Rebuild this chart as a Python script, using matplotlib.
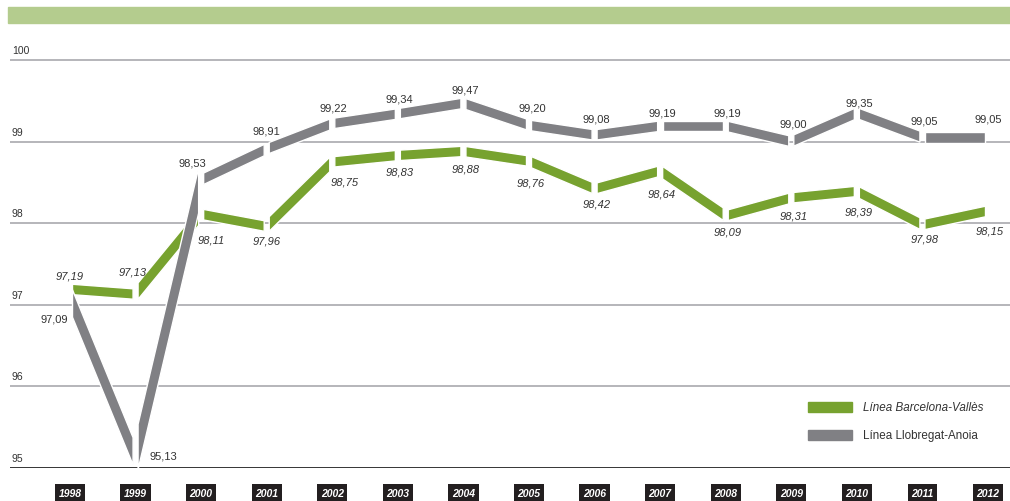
import numpy as np
import matplotlib.pyplot as plt
from matplotlib.patches import Polygon, Rectangle

plt.rcParams["font.family"] = ["Liberation Sans", "DejaVu Sans"]

years = list(range(1998, 2013))
barcelona_valles = [97.19, 97.13, 98.11, 97.96, 98.75, 98.83, 98.88, 98.76,
                    98.42, 98.64, 98.09, 98.31, 98.39, 97.98, 98.15]
llobregat_anoia = [97.09, 95.13, 98.53, 98.91, 99.22, 99.34, 99.47, 99.20,
                   99.08, 99.19, 99.19, 99.00, 99.35, 99.05, 99.05]
yticks = [95, 96, 97, 98, 99, 100]

GREEN = "#77a22f"
GRAY = "#808084"

W, H = 1010, 502
fig = plt.figure(figsize=(W / 100, H / 100), dpi=100)

# axes placed in pixel coords: x 10..1010, y 24..469 (from top)
ax = fig.add_axes([10 / W, (H - 469) / H, 1000 / W, (469 - 24) / H])
px_year = (988 - 70) / 14
ax.set_xlim(1998 - 60 / px_year, 2012 + 22 / px_year)
px_unit = (469 - 61) / 5
ax.set_ylim(95, 100 + 37 / px_unit)
ax.axis("off")

# header band
fig.patches.append(Rectangle((8 / W, (H - 24) / H), 1002 / W, 16 / H,
                             transform=fig.transFigure, color="#b4cc8e", zorder=0))

# grid + labels
for v in yticks:
    if v == 95:
        ax.axhline(v, color="#222222", lw=2, zorder=1)
    else:
        ax.axhline(v, color="#b0b0b4", lw=1.3, zorder=1)
    ax.text(1998 - 58 / px_year, v + 5 / px_unit, str(v), fontsize=7.5,
            color="#333333", va="bottom", ha="left")

gap = 2.5 / px_year
width = 5.2  # half width of the ribbon, in pixels (perpendicular)


def draw_segments(vals, color, z):
    for i in range(len(years) - 1):
        # slope in pixel space
        s = (vals[i + 1] - vals[i]) * px_unit / px_year
        hv = width * np.sqrt(1 + s * s) / px_unit  # vertical half thickness
        x0, x1 = years[i] + gap, years[i + 1] - gap
        y0 = vals[i] + (vals[i + 1] - vals[i]) * gap
        y1 = vals[i + 1] - (vals[i + 1] - vals[i]) * gap
        poly = Polygon([(x0, y0 - hv), (x1, y1 - hv), (x1, y1 + hv), (x0, y0 + hv)],
                       closed=True, facecolor=color, edgecolor="white", lw=1.0, zorder=z)
        ax.add_patch(poly)


draw_segments(barcelona_valles, GREEN, 3)
draw_segments(llobregat_anoia, GRAY, 4)


def fmt(v):
    return f"{v:.2f}".replace(".", ",")


# value label offsets in pixels (dx, dy)
green_off = [(0, 14), (-3, 23), (10, -25), (0, -14), (12, -20), (2, -16), (2, -17), (2, -21),
             (2, -15), (2, -23), (2, -16), (2, -18), (2, -20), (2, -14), (2, -20)]
gray_off = [(-16, -21), (28, 2), (-9, 17), (0, 18), (1, 16), (1, 15), (2, 14), (3, 18),
            (2, 17), (2, 14), (2, 14), (2, 18), (2, 11), (2, 17), (0, 19)]
for i, y in enumerate(years):
    dx, dy = green_off[i]
    ax.text(y + dx / px_year, barcelona_valles[i] + dy / px_unit, fmt(barcelona_valles[i]),
            fontsize=8, style="italic", color="#333333", ha="center", va="center", zorder=5)
    dx, dy = gray_off[i]
    ax.text(y + dx / px_year, llobregat_anoia[i] + dy / px_unit, fmt(llobregat_anoia[i]),
            fontsize=8, color="#333333", ha="center", va="center", zorder=5)

# year boxes
for y in years:
    ax.text(y, 95 - 25 / px_unit, str(y), fontsize=7.5, style="italic", weight="bold",
            color="white", ha="center", va="center", clip_on=False,
            bbox=dict(boxstyle="square,pad=0.35", fc="#231f20", ec="none"))

# legend
fig.patches.append(Rectangle((808 / W, (H - 413) / H), 44 / W, 10 / H,
                             transform=fig.transFigure, color=GREEN))
fig.patches.append(Rectangle((808 / W, (H - 441) / H), 44 / W, 10 / H,
                             transform=fig.transFigure, color=GRAY))
fig.text(863 / W, (H - 408) / H, "Línea Barcelona-Vallès", fontsize=8.4, style="italic",
         color="#333333", va="center")
fig.text(863 / W, (H - 436) / H, "Línea Llobregat-Anoia", fontsize=8.4,
         color="#333333", va="center")

fig.savefig("out.png", dpi=100)
